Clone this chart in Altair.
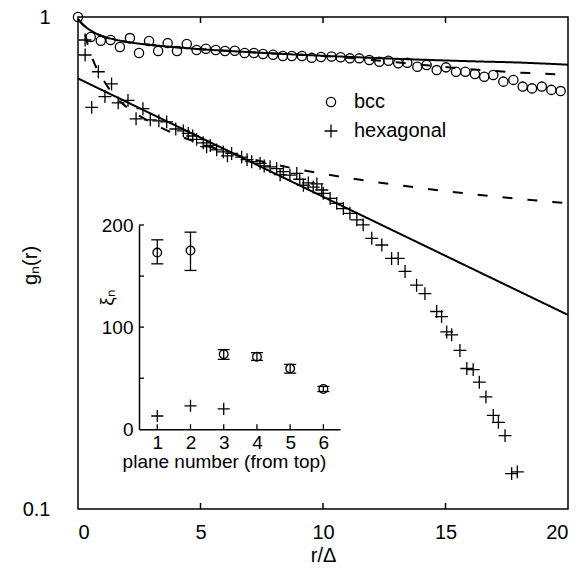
import altair as alt
import pandas as pd

# ---------------- main panel data ----------------
bcc_r = [0, 0.52, 0.93, 1.33, 1.71, 2.12, 2.49, 2.9, 3.27, 3.66, 4.04, 4.44, 4.84, 5.22,
         5.62, 6.0, 6.4, 6.8, 7.18, 7.55, 7.96, 8.36, 8.73, 9.14, 9.54, 9.92, 10.35,
         10.72, 11.1, 11.48, 11.89, 12.3, 12.67, 13.07, 13.44, 13.85, 14.23, 14.64,
         15.02, 15.43, 15.81, 16.2, 16.58, 16.95, 17.36, 17.77, 18.15, 18.53, 18.93,
         19.32, 19.7]
bcc_g = [1.0, 0.911, 0.895, 0.898, 0.869, 0.906, 0.845, 0.894, 0.853, 0.885, 0.853,
         0.881, 0.857, 0.862, 0.857, 0.853, 0.854, 0.845, 0.845, 0.841, 0.838, 0.833,
         0.833, 0.833, 0.826, 0.829, 0.831, 0.828, 0.824, 0.824, 0.818, 0.811, 0.815,
         0.805, 0.807, 0.792, 0.799, 0.78, 0.79, 0.774, 0.774, 0.766, 0.756, 0.762,
         0.739, 0.745, 0.722, 0.716, 0.722, 0.711, 0.707]

hex_r = [0.29, 0.29, 0.56, 0.83, 1.10, 1.37, 1.64, 2.04, 2.37, 2.65, 2.95, 3.30, 3.62,
         3.99, 4.30, 4.50, 4.68, 4.84, 5.11, 5.25, 5.40, 5.66, 5.93, 6.10, 6.27, 6.68,
         6.90, 7.09, 7.43, 7.60, 7.84, 8.11, 8.25, 8.38, 8.65, 8.93, 9.05, 9.20, 9.40,
         9.60, 9.75, 9.95, 10.01, 10.29, 10.56, 10.83, 11.1, 11.38, 11.64, 11.99, 12.4,
         12.8, 13.07, 13.35, 13.82, 14.16, 14.64, 14.84, 15.05, 15.25, 15.59, 15.87,
         16.13, 16.38, 16.65, 16.95, 17.16, 17.43, 17.7, 17.93]
hex_g = [0.898, 0.837, 0.655, 0.774, 0.689, 0.731, 0.669, 0.677, 0.621, 0.651, 0.618,
         0.615, 0.612, 0.592, 0.587, 0.580, 0.573, 0.564, 0.555, 0.545, 0.548, 0.537,
         0.532, 0.522, 0.528, 0.519, 0.513, 0.508, 0.504, 0.498, 0.496, 0.492, 0.478,
         0.485, 0.477, 0.481, 0.468, 0.455, 0.460, 0.451, 0.458, 0.445, 0.438, 0.428,
         0.418, 0.408, 0.399, 0.387, 0.378, 0.355, 0.344, 0.323, 0.323, 0.304, 0.285,
         0.274, 0.252, 0.246, 0.229, 0.226, 0.210, 0.193, 0.192, 0.181, 0.169, 0.155,
         0.150, 0.141, 0.118, 0.119]

# fitted curves
bcc_solid_r = [0, 0.25, 0.5, 1, 1.5, 2, 3, 4, 5, 6, 8, 10, 12, 14, 16, 18, 20]
bcc_solid_g = [0.99, 0.96, 0.94, 0.914, 0.9, 0.89, 0.877, 0.868, 0.86, 0.854, 0.843,
               0.834, 0.826, 0.819, 0.813, 0.808, 0.80]
bcc_dash_r = [0, 0.25, 0.5, 1, 1.5, 2, 3, 4, 5, 6, 8, 10, 11, 12, 13, 14, 15, 16, 17,
              18, 19, 20]
bcc_dash_g = [0.99, 0.96, 0.94, 0.914, 0.9, 0.89, 0.877, 0.868, 0.86, 0.854, 0.843,
              0.833, 0.826, 0.818, 0.809, 0.8, 0.791, 0.783, 0.777, 0.771, 0.767, 0.763]
hex_solid_r = [0, 20]
hex_solid_g = [0.75, 0.248]
hex_dash_r = [0.3, 0.45, 0.6, 0.8, 1.0, 1.5, 2, 3, 4, 5, 6, 7, 8, 9, 10, 12, 14, 16,
              18, 20]
hex_dash_g = [0.92, 0.86, 0.82, 0.78, 0.75, 0.69, 0.655, 0.61, 0.577, 0.553, 0.533,
              0.516, 0.502, 0.49, 0.48, 0.463, 0.449, 0.437, 0.427, 0.418]

x_ticks = [0, 5, 10, 15, 20]
inner_x_ticks = [5, 10, 15]
y_ticks = [0.1, 1]

# ---------------- inset data ----------------
plane = [1, 2, 3, 4, 5, 6]
xi_bcc = [173, 175, 73.5, 71, 59.5, 39.5]
xi_bcc_lo = [162, 155.5, 68.5, 67.5, 55, 37]
xi_bcc_hi = [185.5, 193, 78, 75, 63.5, 42]
plane_hex = [1, 2, 3]
xi_hex = [13, 23, 20]
inset_x_ticks = [1, 2, 3, 4, 5, 6]
inset_y_ticks = [0, 100, 200]
inset_minor_y = [50, 100, 150, 200]

# ---------------- tables ----------------
pts = pd.concat([
    pd.DataFrame({"r": bcc_r, "g": bcc_g, "lattice": "bcc"}),
    pd.DataFrame({"r": hex_r, "g": hex_g, "lattice": "hexagonal"}),
])
lines = pd.concat([
    pd.DataFrame({"r": bcc_solid_r, "g": bcc_solid_g, "line": "bs", "style": "solid"}),
    pd.DataFrame({"r": bcc_dash_r, "g": bcc_dash_g, "line": "bd", "style": "dashed"}),
    pd.DataFrame({"r": hex_solid_r, "g": hex_solid_g, "line": "hs", "style": "solid"}),
    pd.DataFrame({"r": hex_dash_r, "g": hex_dash_g, "line": "hd", "style": "dashed"}),
])
ticks_df = pd.DataFrame({"r": inner_x_ticks})

inset_pts = pd.concat([
    pd.DataFrame({"n": plane, "xi": xi_bcc, "lattice": "bcc"}),
    pd.DataFrame({"n": plane_hex, "xi": xi_hex, "lattice": "hexagonal"}),
])
inset_err = pd.DataFrame({"n": plane, "lo": xi_bcc_lo, "hi": xi_bcc_hi})
inset_xt = pd.DataFrame({"n": inset_x_ticks, "y0": 0, "y1": 5})
inset_yt = pd.DataFrame({"v": inset_minor_y, "x0": 0.45, "x1": 0.6})

FONT = "Liberation Sans"
W, H = 490, 492

xs = alt.Scale(domain=[0, 20], nice=False, zero=False)
ys = alt.Scale(type="log", domain=[0.1, 1], nice=False)
shape_scale = alt.Scale(domain=["bcc", "hexagonal"],
                        range=["circle", "M-1.4,0H1.4M0,-1.4V1.4"])
legend = alt.Legend(title=None, orient="none", legendX=243, legendY=75,
                    labelFontSize=20, labelFont=FONT, labelOffset=13,
                    rowPadding=9, padding=0, symbolSize=85,
                    symbolStrokeColor="black", symbolStrokeWidth=1.3,
                    symbolFillColor="transparent", labelColor="black")

x_main = alt.X("r:Q", scale=xs, axis=alt.Axis(
    values=x_ticks, ticks=False, domain=False, grid=False, labelFontSize=20,
    labelPadding=13, title="r/Δ", titleFontSize=20, titleFontWeight="normal",
    titleX=W / 2, titleY=46, titleBaseline="middle", titleAlign="center"))
y_main = alt.Y("g:Q", scale=ys, axis=alt.Axis(
    values=y_ticks, format="~g", ticks=False, domain=False, grid=False,
    labelFontSize=20, labelPadding=28, labelFlush=False, labelBound=False,
    title="gₙ(r)", titleFontSize=20,
    titleFontWeight="normal", titleX=-48, titleY=248, titleAngle=-90,
    titleAlign="center", titleBaseline="middle"))

line_layer = alt.Chart(lines).mark_line(color="black", strokeWidth=2,
                                        interpolate="monotone").encode(
    x=x_main, y=y_main, detail="line:N",
    strokeDash=alt.StrokeDash("style:N", scale=alt.Scale(
        domain=["solid", "dashed"], range=[[1, 0], [10, 15]]), legend=None))

pt_layer = alt.Chart(pts).mark_point(filled=False, color="black", strokeWidth=1.3,
                                     size=85, opacity=1).encode(
    x=alt.X("r:Q", scale=xs), y=alt.Y("g:Q", scale=ys),
    shape=alt.Shape("lattice:N", scale=shape_scale, legend=legend))

tick_bot = alt.Chart(ticks_df).mark_rule(color="black", strokeWidth=1.5).encode(
    x=alt.X("r:Q", scale=xs), y=alt.value(H), y2=alt.value(H - 6))
tick_top = alt.Chart(ticks_df).mark_rule(color="black", strokeWidth=1.5).encode(
    x=alt.X("r:Q", scale=xs), y=alt.value(0), y2=alt.value(6))

main = alt.layer(line_layer, pt_layer, tick_bot, tick_top)

# ---------------- inset ----------------
ix = alt.Scale(domain=[0.45, 6.5], range=[61, 262], nice=False, zero=False)
iy = alt.Scale(domain=[0, 200], range=[412.3, 208], nice=False)

x_in = alt.X("n:Q", scale=ix, axis=alt.Axis(
    values=inset_x_ticks, format="d", orient="bottom", offset=-79.7, ticks=False,
    domain=True, domainColor="black", domainWidth=1.5, grid=False, labelFontSize=19,
    labelPadding=4, labelFlush=False, title="plane number (from top)", titleFontSize=19,
    titleFontWeight="normal", titleX=146, titleY=32, titleBaseline="middle",
    titleAlign="center"))
y_in = alt.Y("xi:Q", scale=iy, axis=alt.Axis(
    values=inset_y_ticks, format="d", orient="left", offset=-61, ticks=False,
    domain=True, domainColor="black", domainWidth=1.5, grid=False, labelFontSize=19,
    labelPadding=6, title="ξₙ", titleFontSize=19, titleFontWeight="normal",
    titleX=-33, titleY=280, titleAngle=-90, titleAlign="center",
    titleBaseline="middle"))

err = alt.Chart(inset_err).mark_rule(color="black", strokeWidth=1.3).encode(
    x=alt.X("n:Q", scale=ix), y=alt.Y("lo:Q", scale=iy), y2="hi:Q")
cap_lo = alt.Chart(inset_err).mark_tick(orient="horizontal", color="black",
                                        size=12, thickness=1.3, opacity=1).encode(
    x=alt.X("n:Q", scale=ix), y=alt.Y("lo:Q", scale=iy))
cap_hi = alt.Chart(inset_err).mark_tick(orient="horizontal", color="black",
                                        size=12, thickness=1.3, opacity=1).encode(
    x=alt.X("n:Q", scale=ix), y=alt.Y("hi:Q", scale=iy))
ipts = alt.Chart(inset_pts).mark_point(filled=False, color="black", strokeWidth=1.3,
                                       size=75, opacity=1).encode(
    x=x_in, y=y_in,
    shape=alt.Shape("lattice:N", scale=shape_scale, legend=legend))
ixt = alt.Chart(inset_xt).mark_rule(color="black", strokeWidth=1.3).encode(
    x=alt.X("n:Q", scale=ix), y=alt.Y("y0:Q", scale=iy), y2="y1:Q")
iyt = alt.Chart(inset_yt).mark_rule(color="black", strokeWidth=1.3).encode(
    x=alt.X("x0:Q", scale=ix), x2="x1:Q", y=alt.Y("v:Q", scale=iy))

inset = alt.layer(ipts, err, cap_lo, cap_hi, ixt, iyt)

chart = alt.layer(main, inset).resolve_scale(
    x="independent", y="independent"
).properties(
    width=W, height=H,
    padding={"left": 70, "top": 9, "right": 8, "bottom": 56},
    autosize=alt.AutoSizeParams(type="none"),
).configure_view(
    stroke="black", strokeWidth=1.5
).configure_axis(
    labelFont=FONT, titleFont=FONT, labelColor="black", titleColor="black"
).configure_legend(
    labelFont=FONT
)

chart.save("out.html", embed_options={"renderer": "svg", "actions": False})
